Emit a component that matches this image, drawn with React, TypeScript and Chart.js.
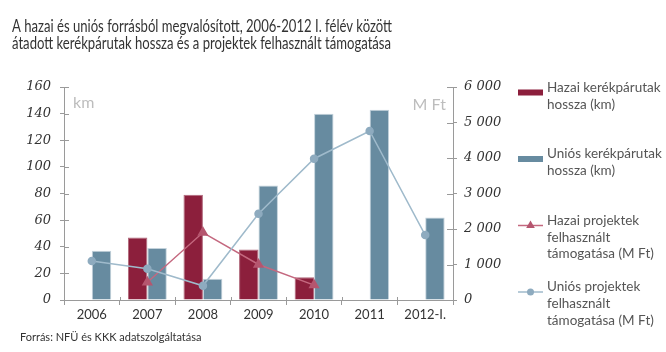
import React, { useEffect, useRef } from 'react';
import { Chart, registerables } from 'chart.js';

Chart.register(...registerables);

const categories = ['2006', '2007', '2008', '2009', '2010', '2011', '2012-I.'];
const hazaiKm = [null, 47, 79, 38, 17, null, null];
const uniosKm = [37, 39, 16, 86, 140, 143, 62];
const hazaiMFt = [null, 500, 1900, 1000, 420, null, null];
const uniosMFt = [1100, 880, 400, 2430, 3980, 4760, 1830];

const seriesLabels = [
  'Hazai kerékpárutak\nhossza (km)',
  'Uniós kerékpárutak\nhossza (km)',
  'Hazai projektek\nfelhasznált\ntámogatása (M Ft)',
  'Uniós projektek\nfelhasznált\ntámogatása (M Ft)',
];
const titleLines = [
  'A hazai és uniós forrásból megvalósított, 2006-2012 I. félév között',
  'átadott kerékpárutak hossza és a projektek felhasznált támogatása',
];
const sourceText = 'Forrás: NFÜ és KKK adatszolgáltatása';
const leftUnit = 'km';
const rightUnit = 'M Ft';

const HAZAI = '#8c1f3c';
const UNIOS = '#678ba0';
const HAZAI_LINE = '#c4687f';
const HAZAI_PT = '#b5566f';
const UNIOS_LINE = '#9fbacb';
const UNIOS_PT = '#8eabbf';
const AXIS = '#9a9a9a';

const fmtSpace = (v: number) => String(v).replace(/\B(?=(\d{3})+(?!\d))/g, ' ');

const decor = {
  id: 'decor',
  afterDraw(chart: any) {
    const ctx = chart.ctx;
    const ca = chart.chartArea;
    ctx.save();
    // inner halves of the axis tick marks
    ctx.strokeStyle = AXIS;
    ctx.lineWidth = 1;
    ctx.beginPath();
    const ys = chart.scales.y;
    ys.ticks.forEach((_: any, i: number) => {
      const py = Math.round(ys.getPixelForTick(i)) + 0.5;
      ctx.moveTo(ca.left, py);
      ctx.lineTo(ca.left + 5, py);
    });
    const y1 = chart.scales.y1;
    y1.ticks.forEach((_: any, i: number) => {
      const py = Math.round(y1.getPixelForTick(i)) + 0.5;
      ctx.moveTo(ca.right - 6, py);
      ctx.lineTo(ca.right, py);
    });
    const xs = chart.scales.x;
    const n = xs.ticks.length;
    const step = (ca.right - ca.left) / n;
    for (let i = 1; i < n; i++) {
      const px = Math.round(ca.left + i * step) + 0.5;
      ctx.moveTo(px, ca.bottom - 3);
      ctx.lineTo(px, ca.bottom);
    }
    ctx.stroke();

    // title (condensed look: compress horizontally to the reference width)
    ctx.fillStyle = '#333';
    ctx.textAlign = 'left';
    ctx.textBaseline = 'alphabetic';
    ctx.font = '17px Lato';
    const w0 = ctx.measureText(titleLines[0]).width;
    const sx = 380 / w0;
    titleLines.forEach((t, i) => {
      ctx.save();
      ctx.translate(12, 32 + i * 16.5);
      ctx.scale(sx, 1);
      ctx.fillText(t, 0, 0);
      ctx.restore();
    });
    // source
    ctx.font = '11px Lato';
    ctx.fillStyle = '#333';
    ctx.fillText(sourceText, 20, 341);
    // units
    ctx.font = '16px Lato';
    ctx.fillStyle = '#bdbdbd';
    ctx.textAlign = 'left';
    ctx.fillText(leftUnit, ca.left + 9, 108);
    ctx.textAlign = 'right';
    ctx.fillText(rightUnit, ca.right - 7, 110);
    // legend
    ctx.textAlign = 'left';
    ctx.textBaseline = 'middle';
    chart.data.datasets.forEach((ds: any, i: number) => {
      const cy = 87.5 + i * 66.5;
      const sy = cy + 5;
      if (ds.type === 'bar') {
        ctx.fillStyle = ds.backgroundColor;
        ctx.fillRect(518, sy - 3, 25, 6);
      } else {
        ctx.strokeStyle = ds.borderColor;
        ctx.lineWidth = 1.5;
        ctx.beginPath();
        ctx.moveTo(518, sy);
        ctx.lineTo(543, sy);
        ctx.stroke();
        ctx.fillStyle = ds.pointBackgroundColor;
        ctx.beginPath();
        if (ds.pointStyle === 'triangle') {
          const r = 5;
          ctx.moveTo(530.5, sy - r);
          ctx.lineTo(530.5 + r * 0.866, sy + r * 0.5);
          ctx.lineTo(530.5 - r * 0.866, sy + r * 0.5);
          ctx.closePath();
        } else {
          ctx.arc(530.5, sy, 3.5, 0, Math.PI * 2);
        }
        ctx.fill();
      }
      ctx.font = '13.5px Lato';
      ctx.fillStyle = '#555';
      String(ds.label).split('\n').forEach((line: string, k: number) => {
        ctx.fillText(line, 547, cy + k * 16.7);
      });
    });
    ctx.restore();
  },
};

const tickFont = { family: '"DejaVu Serif", serif', size: 13, style: 'italic' };

export default function App() {
  const ref = useRef<HTMLCanvasElement | null>(null);
  useEffect(() => {
    if (!ref.current) return;
    const chart = new Chart(ref.current, {
      type: 'bar',
      data: {
        labels: categories,
        datasets: [
          {
            type: 'bar',
            label: seriesLabels[0],
            data: hazaiKm,
            backgroundColor: HAZAI,
            borderColor: '#b0687b',
            borderWidth: 1,
            yAxisID: 'y',
            order: 2,
            categoryPercentage: 0.7,
            barPercentage: 1.0,
          } as any,
          {
            type: 'bar',
            label: seriesLabels[1],
            data: uniosKm,
            backgroundColor: UNIOS,
            borderColor: '#c3d2db',
            borderWidth: 1,
            yAxisID: 'y',
            order: 2,
            categoryPercentage: 0.7,
            barPercentage: 1.0,
          } as any,
          {
            type: 'line',
            label: seriesLabels[2],
            data: hazaiMFt,
            borderColor: HAZAI_LINE,
            backgroundColor: HAZAI_PT,
            pointBackgroundColor: HAZAI_PT,
            pointBorderColor: HAZAI_PT,
            pointStyle: 'triangle',
            pointRadius: 5,
            borderWidth: 1.5,
            yAxisID: 'y1',
            order: 1,
          } as any,
          {
            type: 'line',
            label: seriesLabels[3],
            data: uniosMFt,
            borderColor: UNIOS_LINE,
            backgroundColor: UNIOS_PT,
            pointBackgroundColor: UNIOS_PT,
            pointBorderColor: UNIOS_PT,
            pointStyle: 'circle',
            pointRadius: 3.5,
            borderWidth: 1.5,
            yAxisID: 'y1',
            order: 0,
          } as any,
        ],
      },
      options: {
        responsive: false,
        animation: false,
        devicePixelRatio: 1,
        layout: { padding: { left: 0, right: 151, top: 87, bottom: 22 } },
        plugins: {
          legend: { display: false },
          title: { display: false },
          tooltip: { enabled: false },
        },
        scales: {
          x: {
            offset: true,
            grid: {
              offset: true,
              drawOnChartArea: false,
              drawTicks: true,
              tickLength: 5,
              color: AXIS,
            },
            border: { color: AXIS },
            ticks: { color: '#333', font: { family: 'Lato', size: 13 }, padding: 2 },
            afterFit: (s: any) => { s.height = 30; },
          },
          y: {
            position: 'left',
            min: 0,
            max: 160,
            ticks: {
              stepSize: 20,
              color: '#333',
              font: tickFont,
              padding: 9,
            },
            grid: { drawOnChartArea: false, tickLength: 4, color: AXIS },
            border: { color: AXIS },
            afterFit: (s: any) => { s.width = 64; },
          },
          y1: {
            position: 'right',
            min: 0,
            max: 6000,
            ticks: {
              stepSize: 1000,
              color: '#333',
              font: tickFont,
              padding: 7,
              callback: (v: any) => fmtSpace(Number(v)),
            },
            grid: { drawOnChartArea: false, tickLength: 4, color: AXIS },
            border: { color: AXIS },
            afterFit: (s: any) => { s.width = 62; },
          },
        },
      } as any,
      plugins: [decor],
    });
    return () => chart.destroy();
  }, []);
  return (
    <div style={{ position: 'fixed', left: 0, top: 0, width: 666, height: 352, background: '#fff' }}>
      <canvas ref={ref} width={666} height={352} />
    </div>
  );
}
